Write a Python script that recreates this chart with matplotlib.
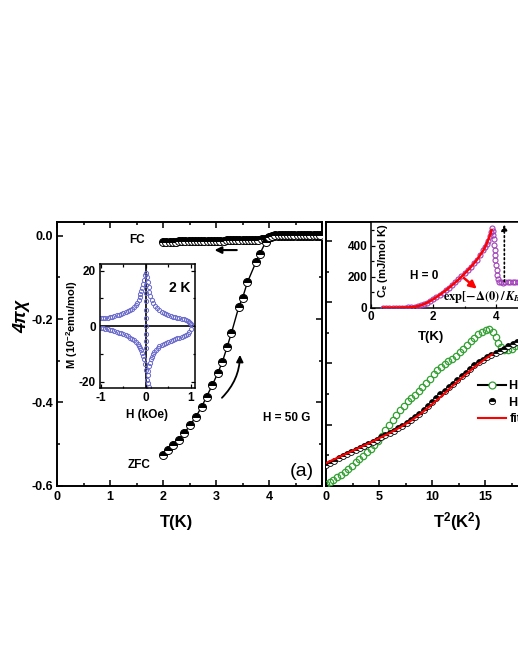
import numpy as np
import matplotlib
matplotlib.use('Agg')
import matplotlib.pyplot as plt
from matplotlib.lines import Line2D
from matplotlib.patches import FancyArrowPatch
from matplotlib.ticker import MultipleLocator, FixedLocator, FixedFormatter

plt.rcParams['font.family'] = ['Liberation Sans', 'DejaVu Sans']
plt.rcParams['font.weight'] = 'bold'
plt.rcParams['mathtext.fontset'] = 'custom'
plt.rcParams['mathtext.rm'] = 'Liberation Sans:bold'
plt.rcParams['mathtext.bf'] = 'Liberation Sans:bold'
plt.rcParams['mathtext.it'] = 'Liberation Sans:italic:bold'
plt.rcParams['mathtext.sf'] = 'Liberation Sans:bold'

# ---------------- data ----------------
# (a) ZFC / FC susceptibility, H = 50 G
zfc_T = [2.00, 2.10, 2.19, 2.29, 2.40, 2.51, 2.62, 2.73, 2.82, 2.93, 3.03, 3.12, 3.21,
         3.29, 3.43, 3.50, 3.59, 3.75, 3.82, 3.94, 4.00, 4.06, 4.12, 4.18, 4.24, 4.30,
         4.36, 4.42, 4.48, 4.54, 4.60, 4.66, 4.72, 4.78, 4.84, 4.90, 4.96]
zfc_chi = [-0.526, -0.514, -0.502, -0.490, -0.474, -0.454, -0.434, -0.410, -0.386,
           -0.358, -0.330, -0.302, -0.266, -0.233, -0.170, -0.149, -0.112, -0.064,
           -0.045, -0.014, -0.004, 0.000, 0.001, 0.002, 0.002, 0.002, 0.002, 0.002,
           0.002, 0.002, 0.002, 0.002, 0.002, 0.002, 0.002, 0.002, 0.002]
fc_T = [2.00, 2.06, 2.12, 2.18, 2.24, 2.30, 2.36, 2.42, 2.48, 2.54, 2.60, 2.66, 2.72,
        2.78, 2.84, 2.90, 2.96, 3.02, 3.08, 3.14, 3.20, 3.26, 3.32, 3.38, 3.44, 3.50,
        3.56, 3.62, 3.68, 3.74, 3.80, 3.86, 3.92, 3.98, 4.04, 4.10, 4.16, 4.22, 4.28,
        4.34, 4.40, 4.46, 4.52, 4.58, 4.64, 4.70, 4.76, 4.82, 4.88, 4.94, 5.00]
fc_chi = [-0.0145, -0.0144, -0.0142, -0.0141, -0.0139, -0.0138, -0.0136, -0.0135,
          -0.0133, -0.0131, -0.0130, -0.0128, -0.0127, -0.0125, -0.0123, -0.0122,
          -0.0120, -0.0118, -0.0117, -0.0115, -0.0113, -0.0112, -0.0110, -0.0108,
          -0.0107, -0.0105, -0.0103, -0.0101, -0.0099, -0.0097, -0.0094, -0.0090,
          -0.0083, -0.0065, -0.0035, -0.0012, -0.0004, -0.0002, -0.0001, 0.0000,
          0.0000, 0.0001, 0.0001, 0.0001, 0.0001, 0.0002, 0.0002, 0.0002, 0.0002,
          0.0002, 0.0002]

# inset of (a): M-H loop at 2 K
mh_ur_H = [0.0, 0.02, 0.04, 0.06, 0.08, 0.10, 0.13, 0.16, 0.20, 0.25, 0.30, 0.35, 0.40,
           0.45, 0.50, 0.55, 0.60, 0.65, 0.70, 0.75, 0.80, 0.85, 0.90, 0.94, 0.97, 0.99, 1.00]
mh_ur_M = [19.0, 17.8, 16.0, 14.0, 12.3, 11.0, 9.6, 8.5, 7.4, 6.4, 5.7, 5.1, 4.7, 4.3,
           4.0, 3.7, 3.4, 3.2, 3.0, 2.8, 2.6, 2.4, 2.2, 2.0, 1.6, 1.1, 0.7]
mh_ul_H = [-1.0, -0.95, -0.9, -0.85, -0.8, -0.75, -0.7, -0.65, -0.6, -0.55, -0.5, -0.45,
           -0.4, -0.35, -0.3, -0.26, -0.22, -0.19, -0.16, -0.14, -0.12, -0.10, -0.08,
           -0.06, -0.04, -0.02]
mh_ul_M = [2.8, 2.9, 3.0, 3.1, 3.3, 3.4, 3.6, 3.9, 4.1, 4.4, 4.7, 5.0, 5.3, 5.7, 6.2,
           6.8, 7.5, 8.3, 9.4, 10.5, 11.5, 12.5, 13.8, 15.3, 16.8, 18.3]
mh_lr_H = [1.0, 0.97, 0.94, 0.9, 0.85, 0.8, 0.75, 0.7, 0.65, 0.6, 0.55, 0.5, 0.45, 0.4,
           0.35, 0.3, 0.26, 0.22, 0.19, 0.16, 0.13, 0.11, 0.09, 0.07, 0.05, 0.04]
mh_lr_M = [-1.0, -2.0, -2.8, -3.3, -3.6, -3.9, -4.2, -4.4, -4.7, -5.0, -5.3, -5.6, -5.9,
           -6.3, -6.7, -7.2, -7.8, -8.5, -9.2, -10.1, -11.0, -12.0, -13.2, -14.5, -16.0, -17.5]
mh_ll_H = [-1.0, -0.95, -0.9, -0.85, -0.8, -0.75, -0.7, -0.65, -0.6, -0.55, -0.5, -0.45,
           -0.4, -0.35, -0.3, -0.26, -0.22, -0.18, -0.15, -0.12, -0.10, -0.08, -0.06,
           -0.04, -0.02, 0.0]
mh_ll_M = [-0.6, -0.8, -1.0, -1.1, -1.3, -1.5, -1.7, -2.0, -2.3, -2.6, -2.9, -3.3, -3.7,
           -4.1, -4.6, -5.1, -5.7, -6.4, -7.1, -7.9, -8.6, -9.5, -10.6, -12.0, -13.8, -15.9]
mh_z_H = [0.004, 0.006, 0.005, 0.004, 0.006, 0.005, 0.004, 0.006, 0.005, 0.03, 0.05, 0.06]
mh_z_M = [15.0, 12.0, 9.0, 6.0, 3.0, 0.0, -3.0, -5.5, -8.0, -19.5, -20.5, -22.0]

# (b) C/T vs T^2
t2_h0 = [0.0, 0.35, 0.7, 1.05, 1.4, 1.75, 2.1, 2.45, 2.8, 3.15, 3.5, 3.85, 4.2, 4.55,
         4.9, 5.25, 5.6, 5.95, 6.3, 6.65, 7.0, 7.35, 7.7, 8.05, 8.4, 8.75, 9.1, 9.45,
         9.8, 10.15, 10.5, 10.85, 11.2, 11.55, 11.9, 12.25, 12.6, 12.95, 13.3, 13.65,
         14.0, 14.35, 14.7, 15.05, 15.4, 15.75, 16.0, 16.25, 16.5, 16.8, 17.15, 17.5,
         17.85, 18.2, 18.55, 18.9, 19.25]
ct_h0 = [0.3, 0.6, 1.0, 1.4, 1.8, 2.2, 2.65, 3.3, 3.8, 4.3, 4.8, 5.45, 6.05, 6.65, 7.3,
         8.2, 9.1, 9.9, 10.8, 11.6, 12.3, 13.0, 13.8, 14.4, 14.9, 15.4, 16.1, 16.8, 17.5,
         18.3, 18.9, 19.4, 19.9, 20.3, 20.7, 21.2, 21.8, 22.4, 23.0, 23.6, 24.2, 24.8,
         25.2, 25.5, 25.6, 25.1, 24.3, 23.4, 22.7, 22.2, 22.1, 22.4, 22.8, 23.2, 23.6,
         24.0, 24.4]
t2_hf = [0.0, 0.4, 0.8, 1.2, 1.6, 2.0, 2.4, 2.8, 3.2, 3.6, 4.0, 4.4, 4.8, 5.2, 5.6, 6.0,
         6.4, 6.8, 7.2, 7.6, 8.0, 8.4, 8.8, 9.2, 9.6, 10.0, 10.4, 10.8, 11.2, 11.6, 12.0,
         12.4, 12.8, 13.2, 13.6, 14.0, 14.4, 14.8, 15.2, 15.6, 16.0, 16.4, 16.8, 17.2,
         17.6, 18.0, 18.4, 18.8, 19.2]
ct_hf = [3.4, 3.75, 4.1, 4.45, 4.8, 5.15, 5.5, 5.85, 6.15, 6.5, 6.85, 7.2, 7.55, 7.9,
         8.25, 8.6, 8.95, 9.35, 9.8, 10.25, 10.7, 11.2, 11.75, 12.35, 13.0, 13.7, 14.35,
         14.95, 15.55, 16.1, 16.7, 17.3, 17.85, 18.4, 19.0, 19.65, 20.15, 20.6, 21.0,
         21.3, 21.65, 22.0, 22.4, 22.8, 23.15, 23.5, 23.9, 24.3, 24.7]
t2_fit = [0, 1, 2, 3, 4, 5, 6, 7, 8, 9, 10, 11, 12, 13, 14, 15, 15.7]
ct_fit = [3.7, 4.5, 5.3, 6.1, 6.9, 7.75, 8.6, 9.55, 10.6, 11.85, 13.3, 14.8, 16.4,
          17.9, 19.4, 20.7, 21.5]
legend_labels = ['H = 0', 'H = 5 T', 'fit']

# inset of (b): electronic specific heat, H = 0
ce_T = [0.4, 0.5, 0.6, 0.7, 0.8, 0.9, 1.0, 1.1, 1.2, 1.3, 1.4, 1.5, 1.6, 1.7, 1.8, 1.9,
        2.0, 2.1, 2.2, 2.3, 2.4, 2.5, 2.6, 2.7, 2.8, 2.9, 3.0, 3.1, 3.2, 3.3, 3.4, 3.5,
        3.6, 3.65, 3.7, 3.75, 3.8, 3.84, 3.87, 3.9, 3.92, 3.94, 3.95, 3.96, 3.97, 3.98,
        4.0, 4.02, 4.04, 4.07, 4.11, 4.16, 4.22, 4.3, 4.38, 4.46, 4.54, 4.62, 4.7, 4.78]
ce_val = [0, 0, 0, 0, 0, 0, 1, 1, 2, 4, 7, 10, 15, 22, 31, 42, 54, 67, 81, 96, 112, 128,
          145, 163, 182, 201, 221, 241, 263, 286, 310, 338, 370, 388, 410, 432, 462, 490,
          512, 495, 470, 440, 405, 370, 340, 305, 275, 245, 212, 185, 168, 163, 162, 164,
          165, 166, 166, 167, 167, 167]
cefit_T = [0.4, 0.8, 1.2, 1.4, 1.6, 1.8, 2.0, 2.2, 2.4, 2.6, 2.8, 3.0, 3.2, 3.4, 3.6,
           3.7, 3.8, 3.86]
cefit_val = [0, 0, 2, 6, 15, 32, 55, 82, 112, 145, 180, 220, 262, 310, 370, 410, 460, 500]

# ---------------- figure ----------------
W, H = 518, 670
fig = plt.figure(figsize=(W / 100, H / 100), dpi=100)


def rect(x0, y0, x1, y1):
    return [x0 / W, 1 - y1 / H, (x1 - x0) / W, (y1 - y0) / H]


def fx(x):
    return x / W


def fy(y):
    return 1 - y / H


def style(ax, lw, size, maj, mnr, top=True, right=True, pad=3):
    for s in ax.spines.values():
        s.set_linewidth(lw)
    ax.tick_params(which='both', direction='in', width=lw * 0.8, labelsize=size,
                   top=top, right=right, pad=pad)
    ax.tick_params(which='major', length=maj)
    ax.tick_params(which='minor', length=mnr)
    for lab in ax.get_xticklabels() + ax.get_yticklabels():
        lab.set_fontweight('bold')


green = '#34a034'
blue = '#6a6acc'
purple = '#a040b8'

# ---- panel (a)
axL = fig.add_axes(rect(57.3, 222, 322, 485.7))
axL.plot(fc_T, fc_chi, ls='-', color='black', lw=0.8, marker='o', ms=5.8,
         fillstyle='top', mfc='black', mfcalt='white', mec='black', mew=0.7, zorder=3)
axL.plot(zfc_T, zfc_chi, ls='-', color='black', lw=1.0, marker='o', ms=5.8,
         fillstyle='top', mfc='black', mfcalt='white', mec='black', mew=0.7, zorder=4)
axL.set_xlim(0, 5)
axL.set_ylim(-0.6, 0.033)
axL.xaxis.set_major_locator(FixedLocator([0, 1, 2, 3, 4, 5]))
axL.xaxis.set_major_formatter(FixedFormatter(['0', '1', '2', '3', '4', '']))
axL.xaxis.set_minor_locator(MultipleLocator(0.5))
axL.yaxis.set_major_locator(FixedLocator([-0.6, -0.4, -0.2, 0.0]))
axL.yaxis.set_major_formatter(FixedFormatter(['-0.6', '-0.4', '-0.2', '0.0']))
axL.yaxis.set_minor_locator(MultipleLocator(0.1))
style(axL, 1.4, 9, 4, 2.5, pad=3)
axL.tick_params(axis='x', pad=4)

axL.text(1.50, -0.0104, 'FC', ha='center', va='center', fontsize=8.5)
axL.text(1.54, -0.550, 'ZFC', ha='center', va='center', fontsize=8.5)
axL.text(4.34, -0.4375, 'H = 50 G', ha='center', va='center', fontsize=8.5)
axL.text(4.62, -0.566, '(a)', ha='center', va='center', fontsize=14, fontweight='normal')

fc_arrow = ((3.39, -0.0344), (2.97, -0.0344))
axL.annotate('', xy=fc_arrow[1], xytext=fc_arrow[0],
             arrowprops=dict(arrowstyle='-|>', color='black', lw=1.5, mutation_scale=10,
                             shrinkA=0, shrinkB=0))
zfc_arrow = ((3.11, -0.389), (3.45, -0.286))
axL.add_patch(FancyArrowPatch(zfc_arrow[0], zfc_arrow[1], connectionstyle='arc3,rad=0.2',
                              arrowstyle='-|>', mutation_scale=10, lw=1.3, color='black',
                              shrinkA=0, shrinkB=0))

# ---- inset of (a)
axLi = fig.add_axes(rect(100, 264, 195, 388.3))
axLi.axhline(0, color='black', lw=1.2, zorder=1)
axLi.axvline(0, color='black', lw=1.2, zorder=1)
for hh, mm in [(mh_ur_H, mh_ur_M), (mh_ul_H, mh_ul_M), (mh_lr_H, mh_lr_M),
               (mh_ll_H, mh_ll_M), (mh_z_H, mh_z_M)]:
    axLi.plot(hh, mm, ls='none', marker='o', ms=3.0, mfc='none', mec=blue, mew=0.7, zorder=2)
axLi.set_xlim(-1.022, 1.096)
axLi.set_ylim(-22.4, 22.4)
axLi.xaxis.set_major_locator(FixedLocator([-1, 0, 1]))
axLi.xaxis.set_major_formatter(FixedFormatter(['-1', '0', '1']))
axLi.xaxis.set_minor_locator(MultipleLocator(0.5))
axLi.yaxis.set_major_locator(FixedLocator([-20, 0, 20]))
axLi.yaxis.set_major_formatter(FixedFormatter(['-20', '0', '20']))
axLi.yaxis.set_minor_locator(MultipleLocator(10))
style(axLi, 1.1, 8.5, 3, 1.8, pad=3)
axLi.text(0.758, 13.6, '2 K', ha='center', va='center', fontsize=10)

# ---- panel (b)
axR = fig.add_axes(rect(326, 222, 591, 485.7))
axR.plot(t2_h0, ct_h0, ls='none', marker='o', ms=4.6, mfc='none', mec=green, mew=0.9, zorder=3)
axR.plot(t2_hf, ct_hf, ls='none', marker='o', ms=4.2, fillstyle='top', mfc='black',
         mfcalt='white', mec='black', mew=0.6, zorder=4)
axR.plot(t2_fit, ct_fit, ls='-', color='red', lw=1.5, zorder=5)
axR.set_xlim(0, 25)
axR.set_ylim(0, 43.1)
axR.xaxis.set_major_locator(FixedLocator([0, 5, 10, 15, 20, 25]))
axR.xaxis.set_major_formatter(FixedFormatter(['0', '5', '10', '15', '', '']))
axR.xaxis.set_minor_locator(MultipleLocator(2.5))
axR.yaxis.set_major_locator(MultipleLocator(10))
axR.yaxis.set_minor_locator(MultipleLocator(5))
axR.set_yticklabels([])
style(axR, 1.4, 9, 4, 2.5, top=False, right=True, pad=3)
axR.tick_params(axis='x', pad=4)

handles = [Line2D([], [], color='black', lw=1.5, marker='o', ms=5, mfc='white', mec=green, mew=0.9),
           Line2D([], [], ls='none', marker='o', ms=4.5, fillstyle='top', mfc='black',
                  mfcalt='white', mec='black', mew=0.6),
           Line2D([], [], color='red', lw=1.5)]
axR.legend(handles, legend_labels, loc='upper left', bbox_to_anchor=(0.5736, 0.40),
           frameon=False, borderpad=0, borderaxespad=0, handlelength=2.2,
           handletextpad=0.3, labelspacing=0.35, prop={'weight': 'bold', 'size': 9})

# ---- inset of (b)
axRi = fig.add_axes(rect(370.7, 222.3, 527.2, 307.7))
axRi.set_facecolor('white')
axRi.plot(ce_T, ce_val, ls='none', marker='o', ms=3.6, mfc='none', mec=purple, mew=0.8, zorder=3)
axRi.plot(cefit_T, cefit_val, ls='-', color='red', lw=1.8, zorder=4)
axRi.set_xlim(0, 5)
axRi.set_ylim(0, 550)
axRi.xaxis.set_major_locator(MultipleLocator(2))
axRi.xaxis.set_minor_locator(MultipleLocator(1))
axRi.yaxis.set_major_locator(MultipleLocator(200))
axRi.yaxis.set_minor_locator(MultipleLocator(100))
style(axRi, 1.1, 8.5, 3, 1.8, top=False, right=False, pad=2.5)
axRi.text(1.71, 202, 'H = 0', ha='center', va='center', fontsize=8.5)
axRi.text(2.30, 72, r'$\exp[-\Delta(0)\,/\,K_BT]$', ha='left', va='center', fontsize=9,
          math_fontfamily='stix', fontweight='normal')
red_arrow = ((2.98, 191), (3.39, 122))
axRi.annotate('', xy=red_arrow[1], xytext=red_arrow[0],
              arrowprops=dict(arrowstyle='-|>', color='red', lw=1.8, mutation_scale=11,
                              shrinkA=0, shrinkB=0))
jump_arrow = ((4.27, 168), (4.27, 536))
axRi.annotate('', xy=jump_arrow[1], xytext=jump_arrow[0],
              arrowprops=dict(arrowstyle='-|>', color='black', lw=1.2, ls=':',
                              mutation_scale=9, shrinkA=0, shrinkB=0))

# ---- axis labels
fig.text(fx(22), fy(316), '4πχ', rotation=90, ha='center', va='center', fontsize=13,
         style='italic')
fig.text(fx(177), fy(523), 'T(K)', ha='center', va='center', fontsize=12)
fig.text(fx(457.5), fy(522), 'T$^2$(K$^2$)', ha='center', va='center', fontsize=12)
fig.text(fx(71.7), fy(325), 'M (10$^{-2}$emu/mol)', rotation=90, ha='center', va='center',
         fontsize=8)
fig.text(fx(146.5), fy(415), 'H (kOe)', ha='center', va='center', fontsize=8.5)
fig.text(fx(430.8), fy(336.7), 'T(K)', ha='center', va='center', fontsize=9.5)
fig.text(fx(383.3), fy(260.5), r'C$_\mathrm{e}$ (mJ/mol K)', rotation=90, ha='center',
         va='center', fontsize=8)

fig.savefig('out.png', dpi=100)
